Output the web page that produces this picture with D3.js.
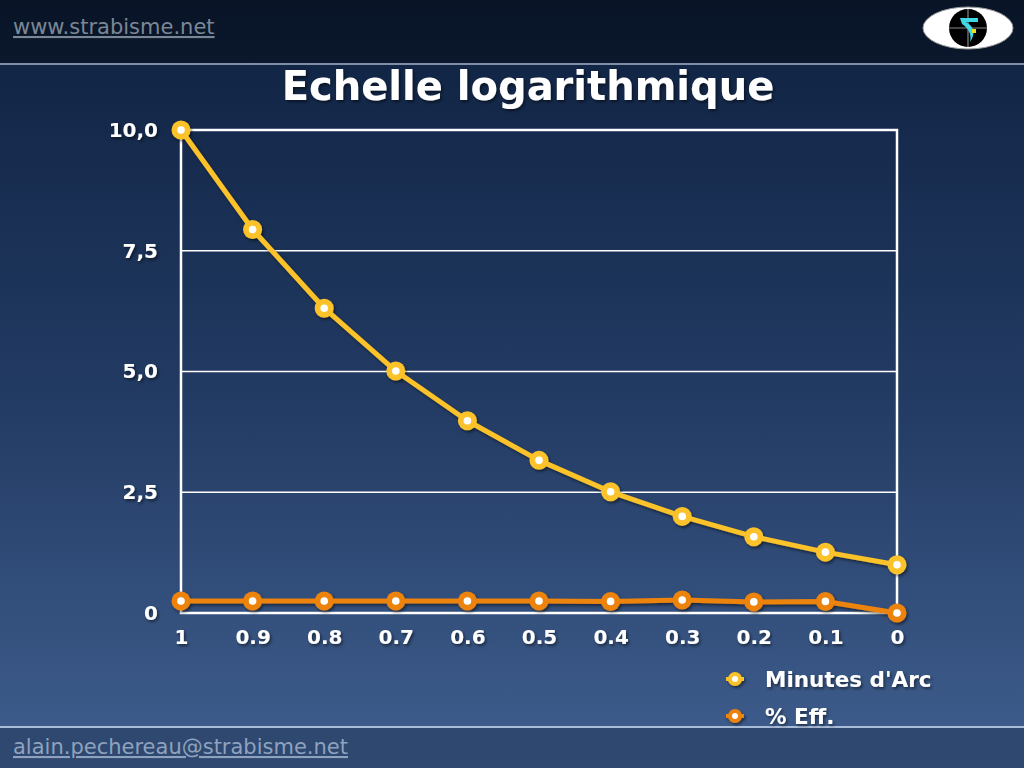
<!DOCTYPE html>
<html><head><meta charset="utf-8">
<script src="https://cdn.jsdelivr.net/npm/d3@7"></script>
<style>html,body{margin:0;padding:0;background:#000;}svg{display:block;}</style>
</head><body>
<script>
const categories = ["1","0.9","0.8","0.7","0.6","0.5","0.4","0.3","0.2","0.1","0"];
const minutesArc = [10.0, 7.94, 6.31, 5.01, 3.98, 3.16, 2.51, 2.0, 1.58, 1.26, 1.0];
const pctEff = [0.25, 0.25, 0.25, 0.25, 0.25, 0.25, 0.24, 0.27, 0.23, 0.24, 0.0];
const yTicks = [0, 2.5, 5.0, 7.5, 10.0];
const yTickLabels = ["0", "2,5", "5,0", "7,5", "10,0"];
const seriesNames = ["Minutes d'Arc", "% Eff."];
const seriesColors = ["#fbc22b", "#ec830e"];

const W = 1024, H = 768;
const svg = d3.select("body").append("svg").attr("width", W).attr("height", H);
const defs = svg.append("defs");
const bg = defs.append("linearGradient").attr("id","bg").attr("x1",0).attr("y1",0).attr("x2",0).attr("y2",1);
bg.append("stop").attr("offset","0%").attr("stop-color","#0e1e3a");
bg.append("stop").attr("offset","10%").attr("stop-color","#122647");
bg.append("stop").attr("offset","55%").attr("stop-color","#243d66");
bg.append("stop").attr("offset","100%").attr("stop-color","#405f8f");
const hd = defs.append("linearGradient").attr("id","hd").attr("x1",0).attr("y1",0).attr("x2",0).attr("y2",1);
hd.append("stop").attr("offset","0%").attr("stop-color","#081326");
hd.append("stop").attr("offset","100%").attr("stop-color","#0b182c");
const sh = defs.append("filter").attr("id","sh").attr("x","-20%").attr("y","-20%").attr("width","140%").attr("height","140%");
sh.append("feDropShadow").attr("dx",1.5).attr("dy",2).attr("stdDeviation",1.5).attr("flood-color","#000").attr("flood-opacity",0.5);

svg.append("rect").attr("width",W).attr("height",H).attr("fill","url(#bg)");
svg.append("rect").attr("width",W).attr("height",63).attr("fill","url(#hd)");
svg.append("rect").attr("y",63).attr("width",W).attr("height",2).attr("fill","#7f8ea8");
svg.append("rect").attr("y",728).attr("width",W).attr("height",H-728).attr("fill","#2f4870");
svg.append("rect").attr("y",726).attr("width",W).attr("height",2).attr("fill","#a9bcd8");

// header / footer text
svg.append("text").attr("x",13).attr("y",34).attr("fill","#7b8796")
  .attr("font-family","DejaVu Sans, sans-serif").attr("font-size",21).attr("text-decoration","underline").text("www.strabisme.net");
svg.append("text").attr("x",13).attr("y",754).attr("fill","#8ea2bf")
  .attr("font-family","DejaVu Sans, sans-serif").attr("font-size",21).attr("text-decoration","underline").text("alain.pechereau@strabisme.net");

// logo
const lg = svg.append("g").attr("transform","translate(968,28)");
lg.append("ellipse").attr("rx",45).attr("ry",21).attr("fill","#fff").attr("stroke","#999").attr("stroke-width",1);
lg.append("circle").attr("r",19).attr("fill","#000");
lg.append("line").attr("x1",-19).attr("x2",19).attr("stroke","#888").attr("stroke-width",1.2);
lg.append("line").attr("y1",-19).attr("y2",19).attr("stroke","#888").attr("stroke-width",1.2);
lg.append("path").attr("d","M-8,-10 L10,-10 L10,-6 L-2,-6 C6,-2 8,6 2,14 C4,6 0,0 -6,-4 Z").attr("fill","#3fd6e6");
lg.append("rect").attr("x",4).attr("y",1).attr("width",4).attr("height",4).attr("fill","#e8e020");

// title
svg.append("text").attr("x",528).attr("y",100).attr("text-anchor","middle").attr("fill","#fff")
  .attr("font-family","DejaVu Sans, sans-serif").attr("font-weight","bold").attr("font-size",40)
  .attr("filter","url(#sh)").text("Echelle logarithmique");

// scales
const x = d3.scalePoint().domain(categories).range([181, 897]);
const y = d3.scaleLinear().domain([0, 10]).range([613, 130]);

const plot = svg.append("g");
plot.selectAll("line.grid").data(yTicks.filter(d => d > 0 && d < 10)).enter().append("line")
  .attr("x1",181).attr("x2",897).attr("y1",d=>y(d)).attr("y2",d=>y(d)).attr("stroke","#fff").attr("stroke-width",1.5);
plot.append("rect").attr("x",181).attr("y",y(10)).attr("width",897-181).attr("height",y(0)-y(10))
  .attr("fill","none").attr("stroke","#fff").attr("stroke-width",2.5);

// axes
const yAxis = d3.axisLeft(y).tickValues(yTicks).tickFormat((d,i)=>yTickLabels[i]).tickSize(0).tickPadding(23);
const ya = svg.append("g").attr("transform","translate(181,0)").call(yAxis);
ya.select(".domain").remove();
ya.selectAll("text").attr("fill","#fff").attr("font-family","DejaVu Sans, sans-serif").attr("font-weight","bold").attr("font-size",20).attr("filter","url(#sh)");

const xAxis = d3.axisBottom(x).tickSize(0).tickPadding(17);
const xa = svg.append("g").attr("transform","translate(0,613)").call(xAxis);
xa.select(".domain").remove();
xa.selectAll("text").attr("fill","#fff").attr("font-family","DejaVu Sans, sans-serif").attr("font-weight","bold").attr("font-size",20).attr("filter","url(#sh)");

// series
const series = [minutesArc, pctEff];
const line = d3.line().x((d,i)=>x(categories[i])).y(d=>y(d));
[1,0].forEach(s => {
  const g = svg.append("g").attr("filter","url(#sh)");
  g.append("path").datum(series[s]).attr("d", line).attr("fill","none").attr("stroke",seriesColors[s]).attr("stroke-width",5).attr("stroke-linejoin","round");
  g.selectAll("circle.o").data(series[s]).enter().append("circle").attr("cx",(d,i)=>x(categories[i])).attr("cy",d=>y(d)).attr("r",9.5).attr("fill",seriesColors[s]);
  g.selectAll("circle.i").data(series[s]).enter().append("circle").attr("cx",(d,i)=>x(categories[i])).attr("cy",d=>y(d)).attr("r",3.8).attr("fill","#fff");
});

// legend
const leg = svg.append("g");
seriesNames.forEach((n, i) => {
  const yy = 679 + i*37;
  const g = leg.append("g").attr("filter","url(#sh)");
  g.append("line").attr("x1",726).attr("x2",744).attr("y1",yy).attr("y2",yy).attr("stroke",seriesColors[i]).attr("stroke-width",4);
  g.append("circle").attr("cx",735).attr("cy",yy).attr("r",7).attr("fill",seriesColors[i]);
  g.append("circle").attr("cx",735).attr("cy",yy).attr("r",3).attr("fill","#fff");
  g.append("text").attr("x",765).attr("y",yy+8).attr("fill","#fff").attr("font-family","DejaVu Sans, sans-serif")
    .attr("font-weight","bold").attr("font-size",21.5).text(n);
});
</script>
</body></html>
